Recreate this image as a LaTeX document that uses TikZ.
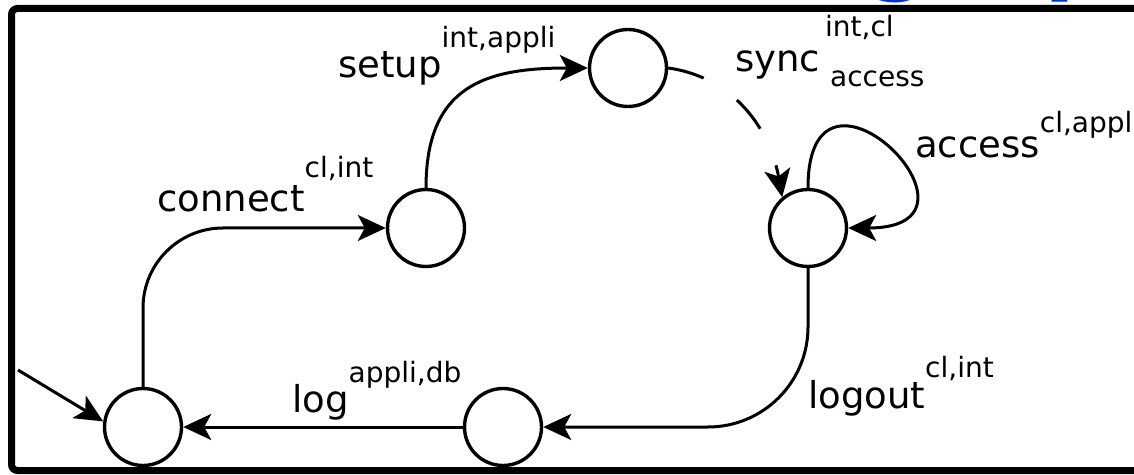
\documentclass[tikz,border=0pt]{standalone}
\usepackage{fontspec}
\setmainfont{DejaVu Sans}
\usepackage{tikz}
\usetikzlibrary{arrows.meta}

\definecolor{titleblue}{RGB}{0,50,210}
\newcommand{\bigtxt}{\fontsize{37}{44}\selectfont}
\newcommand{\smalltxt}{\fontsize{28}{33}\selectfont}
\newcommand{\trans}[3][31pt]{#2\raisebox{#1}{\smalltxt #3}}

\begin{document}
\begin{tikzpicture}[x=1pt, y=1pt, >={Stealth[length=28pt,width=26pt,inset=7pt]},
    state/.style={draw, circle, line width=3.4pt, minimum size=77pt, inner sep=0pt},
    edge/.style={->, line width=3pt},
    lab/.style={anchor=base west, inner sep=0pt, font=\bigtxt},
    title/.style={anchor=base, inner sep=0pt, text=titleblue, font=\fontsize{90}{100}\selectfont\bfseries}]
  \clip (0,0) rectangle (1134,474);
  \node[title] (tg) at (900,490) {g};
  \node[title, anchor=base west] (tp) at (1044,490) {p};
  \draw[line width=7pt, rounded corners=6pt] (11.5,3.5) rectangle (1170,465.5);

  \node[state] (q0) at (143,47) {};
  \node[state] (q1) at (426,246) {};
  \node[state] (q2) at (628,406) {};
  \node[state] (q3) at (808,246) {};
  \node[state] (q4) at (503,47) {};

  \coordinate (init) at (18,104);
  \draw[edge] (init) -- (q0.172);
  \draw[edge, rounded corners=80pt] (q0.north) |- (q1.west);
  \draw[edge] (q1.north) to[out=90, in=180, looseness=1.3] (q2.west);
  \draw[edge, dash pattern=on 37pt off 40pt] (q2.east) to[out=-8, in=100] (q3.130);
  \draw[edge] (q3.north) .. controls +(0,160) and +(160,0) .. (q3.east);
  \draw[edge, rounded corners=100pt] (q3.south) |- (q4.east);
  \draw[edge] (q4.west) -- (q0.east);

  \node[lab] (lconnect) at (157,262) {\trans[34pt]{connect}{cl,int}};
  \node[lab] (lsetup) at (338,396) {\trans[30pt]{setup}{int,appli}};
  \node[lab] (lsync) at (735,402) {sync\hspace{5pt}\rlap{\raisebox{35pt}{\smalltxt int,cl}}\hspace{5pt}\raisebox{-15pt}{\smalltxt access}};
  \node[lab] (laccess) at (915,316) {\trans[25pt]{access}{cl,appli}};
  \node[lab] (llogout) at (808,66) {\trans[31pt]{logout}{cl,int}};
  \node[lab] (llog) at (292,62) {\trans[30pt]{log}{appli,db}};
\end{tikzpicture}
\end{document}
